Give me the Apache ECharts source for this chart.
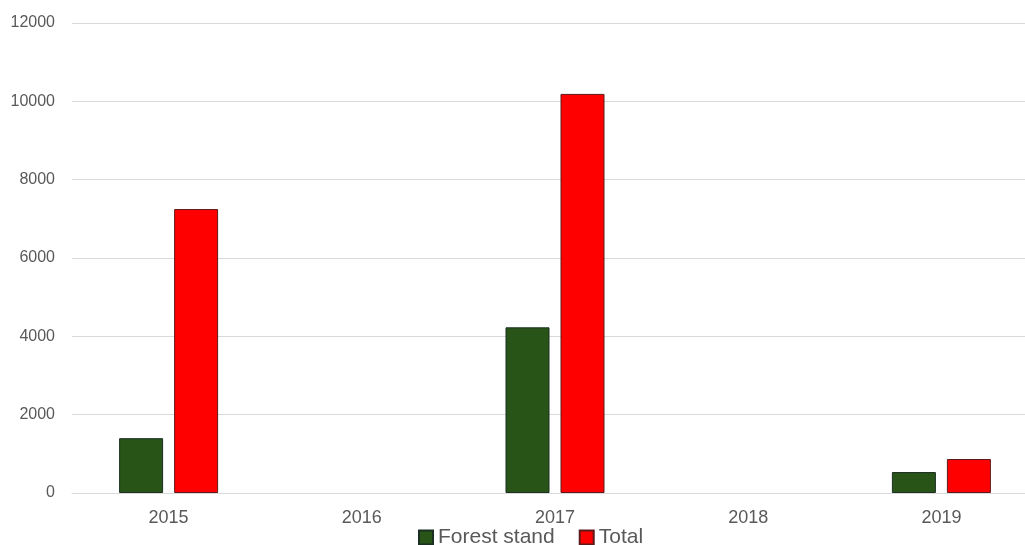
<!DOCTYPE html>
<html><head><meta charset="utf-8">
<script src="https://cdn.jsdelivr.net/npm/echarts@6/dist/echarts.min.js"></script>
<style>html,body{margin:0;padding:0;background:#fff;overflow:hidden;width:1025px;height:545px}#c{width:1040px;height:545px}</style>
</head><body><div id="c"></div>
<script>
const categories = ['2015','2016','2017','2018','2019'];
const forestStand = [1400, null, 4230, null, 535];
const total = [7250, null, 10190, null, 868];
const yTicks = {min:0, max:12000, interval:2000};

const chart = echarts.init(document.getElementById('c'), null, {renderer:'canvas'});
const font = 'Liberation Sans, Arial, sans-serif';
chart.setOption({
  animation:false,
  backgroundColor:'#fff',
  grid:{left:72, top:23, width:966, height:470, containLabel:false},
  legend:{
    top:527, left:418, padding:0, itemWidth:14, itemHeight:14, itemGap:24,
    icon:'rect',
    textStyle:{fontFamily:font, fontSize:21, color:'#595959'},
    data:['Forest stand','Total']
  },
  xAxis:{
    type:'category', data:categories,
    axisLine:{lineStyle:{color:'#d9d9d9', width:1}},
    axisTick:{show:false},
    axisLabel:{fontFamily:font, fontSize:18, color:'#595959', margin:16}
  },
  yAxis:{
    type:'value', min:yTicks.min, max:yTicks.max, interval:yTicks.interval,
    axisLine:{show:false}, axisTick:{show:false},
    splitLine:{lineStyle:{color:'#d9d9d9', width:1}},
    axisLabel:{fontFamily:font, fontSize:16, color:'#595959', margin:17,
      formatter:function(v){return String(v);}}
  },
  series:[
    {name:'Forest stand', type:'bar', data:forestStand, barWidth:44, barGap:'25%',
     itemStyle:{color:'#285417', borderColor:'#1b2f22', borderWidth:1}},
    {name:'Total', type:'bar', data:total, barWidth:44,
     itemStyle:{color:'#ff0000', borderColor:'#5e1a1a', borderWidth:1}}
  ]
});
</script></body></html>
